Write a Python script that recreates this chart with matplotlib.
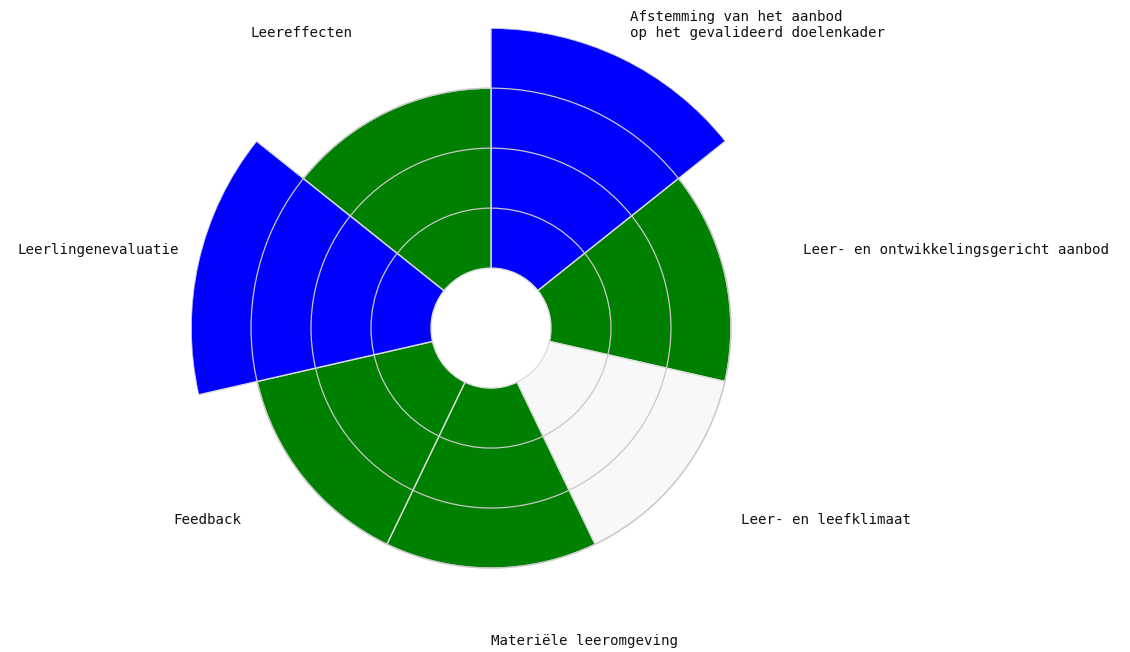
import numpy as np
import matplotlib
matplotlib.use('Agg')
import matplotlib.pyplot as plt

categorieen = ['Afstemming van het aanbod\nop het gevalideerd doelenkader',
               'Leer- en ontwikkelingsgericht aanbod',
               'Leer- en leefklimaat',
               'Materiële leeromgeving',
               'Feedback',
               'Leerlingenevaluatie',
               'Leereffecten']
waarden = [4, 3, 3, 3, 3, 4, 3]
kleuren = ['#0000ff', '#008000', '#f8f8f8', '#008000', '#008000', '#0000ff', '#008000']

n = len(categorieen)
breedte = 2 * np.pi / n
hoeken = np.arange(n) * breedte + breedte / 2

fig = plt.figure(figsize=(11.3, 6.52), dpi=100)
ax = fig.add_axes([0.169, 0.0368, 0.531, 0.920], projection='polar')
ax.set_theta_zero_location('N')
ax.set_theta_direction(-1)

ax.bar(hoeken, waarden, width=breedte, bottom=1, color=kleuren,
       edgecolor='#dddddd', linewidth=1, zorder=1)

ax.set_ylim(0, 5)
ax.set_yticks([2, 3, 4])
ax.set_yticklabels([])
ax.set_xticks([])
ax.yaxis.grid(True, color='#c8c8c8', linewidth=0.9)
ax.set_axisbelow(False)
ax.spines['polar'].set_visible(False)
ax.patch.set_visible(False)

for hoek, label in zip(hoeken, categorieen):
    ha = 'left' if np.sin(hoek) >= -1e-9 else 'right'
    ax.text(hoek, 5.33, label, ha=ha, va='bottom', fontsize=10.2,
            family='DejaVu Sans Mono', color='#111111', linespacing=1.2)

fig.savefig('out.png', dpi=100)
